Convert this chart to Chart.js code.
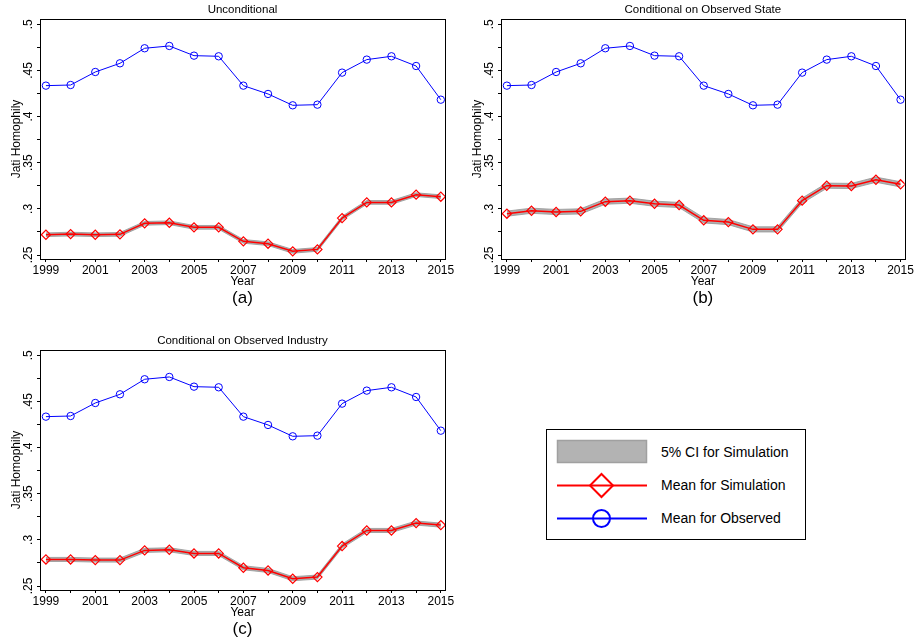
<!DOCTYPE html>
<html>
<head>
<meta charset="utf-8">
<script src="https://cdn.jsdelivr.net/npm/chart.js@4/dist/chart.umd.min.js"></script>
<style>
  html, body { margin:0; padding:0; background:#fff; width:915px; height:642px; overflow:hidden; }
  canvas { position:absolute; }
  #legendBox { position:absolute; left:546px; top:429px; width:260px; height:111px;
    border:1px solid #000; box-sizing:border-box; background:#fff;
    font-family:"Liberation Sans", Arial, sans-serif; font-size:14px; color:#000; }
  #legendBox svg { position:absolute; left:0; top:0; }
  .lgText { position:absolute; left:114px; line-height:16px; white-space:nowrap; }
</style>
</head>
<body>
<canvas id="chartA" width="460" height="307" style="left:0;top:0"></canvas>
<canvas id="chartB" width="454" height="307" style="left:461px;top:0"></canvas>
<canvas id="chartC" width="460" height="307" style="left:0;top:331px"></canvas>
<div id="legendBox"></div>

<script>
/* ---------- DATA ---------- */
const years = [1999,2000,2001,2002,2003,2004,2005,2006,2007,2008,2009,2010,2011,2012,2013,2014,2015];

// observed mean (same in all three panels)
const observed = [0.4335,0.4342,0.4483,0.4577,0.4740,0.4765,0.4660,0.4653,0.4335,0.4245,0.4122,0.4129,0.4476,0.4617,0.4653,0.4548,0.4183];

// (a) unconditional
const simA   = [0.2720,0.2727,0.2720,0.2724,0.2843,0.2850,0.2800,0.2800,0.2648,0.2623,0.2540,0.2561,0.2900,0.3070,0.3070,0.3154,0.3132];
const ciLoA  = [0.2700,0.2707,0.2700,0.2704,0.2823,0.2830,0.2780,0.2780,0.2628,0.2603,0.2520,0.2541,0.2880,0.3050,0.3050,0.3134,0.3112];
const ciHiA  = [0.2740,0.2747,0.2740,0.2744,0.2863,0.2870,0.2820,0.2820,0.2668,0.2643,0.2560,0.2581,0.2920,0.3090,0.3090,0.3174,0.3152];

// (b) conditional on observed state
const simB   = [0.2948,0.2980,0.2966,0.2973,0.3078,0.3089,0.3056,0.3042,0.2876,0.2857,0.2778,0.2778,0.3089,0.3251,0.3248,0.3316,0.3266];
const ciLoB  = [0.2920,0.2952,0.2938,0.2945,0.3050,0.3061,0.3028,0.3014,0.2848,0.2829,0.2750,0.2750,0.3061,0.3223,0.3220,0.3288,0.3238];
const ciHiB  = [0.2976,0.3008,0.2994,0.3001,0.3106,0.3117,0.3084,0.3070,0.2904,0.2885,0.2806,0.2806,0.3117,0.3279,0.3276,0.3344,0.3294];

// (c) conditional on observed industry
const simC   = [0.2788,0.2788,0.2781,0.2781,0.2886,0.2893,0.2853,0.2853,0.2698,0.2669,0.2579,0.2597,0.2933,0.3102,0.3102,0.3182,0.3160];
const ciLoC  = [0.2766,0.2766,0.2759,0.2759,0.2864,0.2871,0.2831,0.2831,0.2676,0.2647,0.2557,0.2575,0.2911,0.3080,0.3080,0.3160,0.3138];
const ciHiC  = [0.2810,0.2810,0.2803,0.2803,0.2908,0.2915,0.2875,0.2875,0.2720,0.2691,0.2601,0.2619,0.2955,0.3124,0.3124,0.3204,0.3182];

const panelTitles = ["Unconditional", "Conditional on Observed State", "Conditional on Observed Industry"];
const panelCaptions = ["(a)", "(b)", "(c)"];
const legendLabels = ["5% CI for Simulation", "Mean for Simulation", "Mean for Observed"];
const xTitle = "Year";
const yTitle = "Jati Homophily";

/* ---------- helpers ---------- */
const FONT = '"Liberation Sans", Arial, sans-serif';
Chart.defaults.font.family = FONT;
Chart.defaults.color = '#000';

function pts(arr){ return years.map((yr,i)=>({x:yr, y:arr[i]})); }
function isMajor(v){ return Math.abs(Math.round(v/0.05)*0.05 - v) < 1e-6; }
function stataNum(v){ return String(+v.toFixed(2)).replace(/^0\./, '.'); }

// black box round the plot area
const framePlugin = {
  id:'frame',
  afterDraw(chart){
    const a = chart.chartArea, ctx = chart.ctx;
    ctx.save();
    ctx.strokeStyle = '#000';
    ctx.lineWidth = 1;
    ctx.strokeRect(Math.round(a.left)+0.5, Math.round(a.top)+0.5, Math.round(a.right-a.left), Math.round(a.bottom-a.top));
    ctx.restore();
  }
};

// an empty axis only used to hold a text centred over the plot area
function textAxis(pos, text, size, pad, h, weight){
  return {
    type:'linear', position:pos, weight:weight, display:true,
    grid:{display:false}, border:{display:false}, ticks:{display:false},
    title:{display:true, text:text, font:{size:size, lineHeight:(pos==='top'?1.2:1)}, color:'#000', padding:pad},
    afterFit:(s)=>{ s.height = h; }
  };
}

function makePanel(id, idx, sim, lo, hi, padRight){
  return new Chart(document.getElementById(id), {
    type:'line',
    data:{
      datasets:[
        {label:'Mean for Simulation', data:pts(sim), order:0, borderColor:'#ff0000', borderWidth:1.5,
         pointStyle:'rectRot', pointRadius:4.6, pointBorderWidth:1.2, pointBorderColor:'#ff0000',
         pointBackgroundColor:'rgba(0,0,0,0)', tension:0, fill:false},
        {label:'Mean for Observed', data:pts(observed), order:1, borderColor:'#0000ff', borderWidth:1,
         pointStyle:'circle', pointRadius:3.7, pointBorderWidth:1, pointBorderColor:'#0000ff',
         pointBackgroundColor:'rgba(0,0,0,0)', tension:0, fill:false},
        {label:'ci hi', data:pts(hi), order:2, borderColor:'#969696', borderWidth:0.8, pointRadius:0, fill:false},
        {label:'ci lo', data:pts(lo), order:3, borderColor:'#969696', borderWidth:0.8, pointRadius:0,
         fill:'-1', backgroundColor:'#b0b0b0'}
      ]
    },
    options:{
      responsive:false, animation:false,
      layout:{padding:{left:0, right:padRight, top:0, bottom:0}},
      plugins:{ legend:{display:false}, tooltip:{enabled:false} },
      scales:{
        x:{
          type:'linear', min:1998.76, max:2015.17, weight:0,
          border:{display:false},
          grid:{drawOnChartArea:false, tickLength:3, color:'#000'},
          ticks:{stepSize:1, includeBounds:false, autoSkip:false, maxRotation:0, padding:1,
                 font:{size:12}, color:'#000',
                 callback:(v)=> (v % 2 === 1 ? String(v) : '')},
          title:{display:true, text:xTitle, font:{size:12}, color:'#000', padding:{top:0, bottom:1}},
          afterFit:(s)=>{ s.height = 31; }
        },
        y:{
          type:'linear', min:0.2457, max:0.5057,
          border:{display:false},
          grid:{drawOnChartArea:false, tickLength:3, color:'#000'},
          ticks:{stepSize:0.025, includeBounds:false, autoSkip:false, minRotation:90, maxRotation:90,
                 crossAlign:'center', padding:0, font:{size:12}, color:'#000',
                 callback:(v)=> (isMajor(v) ? stataNum(v) : '')},
          title:{display:true, text:yTitle, font:{size:12}, color:'#000', padding:{top:9, bottom:0}},
          afterFit:(s)=>{ s.width = 40; }
        },
        titleAxis: textAxis('top', panelTitles[idx], 11.5, {top:3, bottom:0}, 19, 0),
        captionAxis: textAxis('bottom', panelCaptions[idx], 17, {top:0, bottom:0}, 17, 1)
      }
    },
    plugins:[framePlugin]
  });
}

makePanel('chartA', 0, simA, ciLoA, ciHiA, 15);
makePanel('chartB', 1, simB, ciLoB, ciHiB, 9);
makePanel('chartC', 2, simC, ciLoC, ciHiC, 15);

/* ---------- legend box ---------- */
(function buildLegend(){
  const box = document.getElementById('legendBox');
  const ns = 'http://www.w3.org/2000/svg';
  const svg = document.createElementNS(ns, 'svg');
  svg.setAttribute('width', 258); svg.setAttribute('height', 109);
  svg.innerHTML =
    '<rect x="10.5" y="10.5" width="89" height="22" fill="#b3b3b3" stroke="#a0a0a0" stroke-width="1.5"/>' +
    '<line x1="10" y1="55.5" x2="100" y2="55.5" stroke="#ff0000" stroke-width="2"/>' +
    '<polygon points="54.5,44 66,55.5 54.5,67 43,55.5" fill="none" stroke="#ff0000" stroke-width="2"/>' +
    '<line x1="10" y1="88.5" x2="100" y2="88.5" stroke="#0000ff" stroke-width="2"/>' +
    '<circle cx="54.5" cy="88.5" r="8.5" fill="none" stroke="#0000ff" stroke-width="2"/>';
  box.appendChild(svg);
  const ys = [14, 47, 80];
  legendLabels.forEach((t,i)=>{
    const s = document.createElement('div');
    s.className = 'lgText';
    s.style.top = ys[i] + 'px';
    s.textContent = t;
    box.appendChild(s);
  });
})();
</script>
</body>
</html>
